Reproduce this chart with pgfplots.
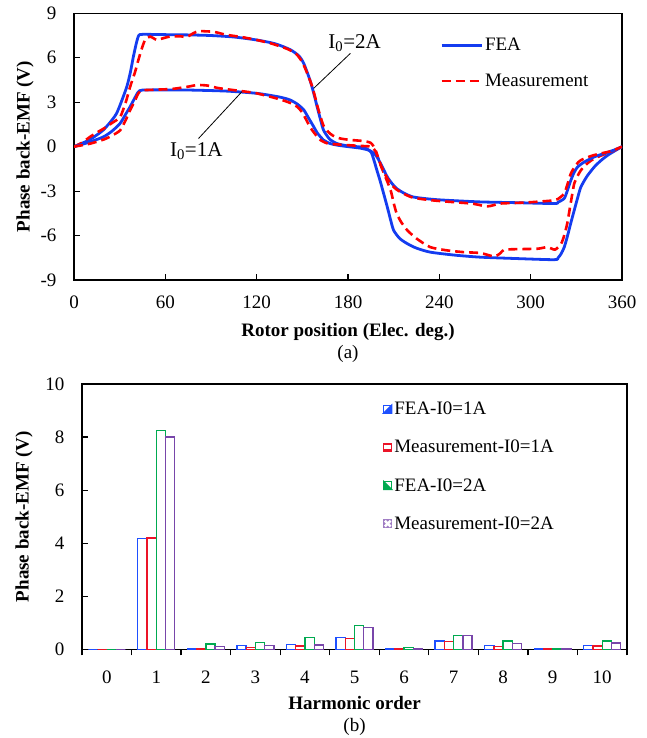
\documentclass[border=0pt]{standalone}
\usepackage{fontspec}
\setmainfont{Liberation Serif}
\usepackage{pgfplots}
\pgfplotsset{compat=1.18}
\definecolor{feablue}{RGB}{20,60,240}
\definecolor{mred}{RGB}{255,0,0}
\definecolor{bblue}{RGB}{30,80,255}
\definecolor{bred}{RGB}{235,20,40}
\definecolor{bgreen}{RGB}{0,170,80}
\definecolor{bpurple}{RGB}{120,70,170}
\pgfplotsset{
  myframe/.style={
    scale only axis,
    font=\fontsize{19}{22}\selectfont,
    tick label style={font=\fontsize{19}{22}\selectfont},
    /pgf/number format/assume math mode=true,
    axis line style={line width=1.4pt},
    tick style={line width=1.2pt, black},
    tick align=inside,
    xtick pos=bottom, ytick pos=left,
    xticklabel style={yshift=-12pt},
    yticklabel style={xshift=-14pt},
  }
}
\begin{document}
\begin{tikzpicture}
\useasboundingbox (0,0) rectangle (647pt,-738pt);
% ---------------- (a) ----------------
\begin{axis}[myframe,
  at={(74pt,-280pt)}, anchor=south west,
  width=548pt, height=266.7pt,
  xmin=0, xmax=360, ymin=-9, ymax=9,
  xtick={0,60,...,360}, ytick={-9,-6,...,9},
  major tick length=6pt,
  xlabel={\textbf{Rotor position (Elec. deg.)}\\(a)},
  xlabel style={align=center, yshift=-8pt},
  ylabel={\textbf{Phase back-EMF (V)}},
  legend style={draw=none, fill=none, at={(0.668,0.915)}, anchor=north west,
    row sep=18pt, font=\fontsize{19}{22}\selectfont, inner sep=0pt},
  legend cell align=left,
  legend image code/.code={\draw[#1] (0pt,0pt) -- (40pt,0pt);},
]
\addplot[feablue, line width=2.8pt, smooth, tension=0.4] coordinates {
(0,0) (10,0.45) (19,1.1) (25,1.8) (28,2.25) (31,3.0) (34.7,4.05) (37,5.0) (39,6.07) (41,7.0) (42.5,7.5)
(45,7.58) (60,7.56) (76,7.54) (90,7.5) (105,7.4) (120,7.2) (132,6.95) (142,6.55) (148,6.1) (151,5.6)
(155,4.5) (157.5,3.6) (159.7,2.7) (162,1.8) (164,1.1) (168,0.5) (173,0.2) (180,0.05) (190,-0.05)
(195,-0.35) (197,-0.9) (199,-1.6) (201,-2.27) (203.5,-3.2) (205.8,-4.07) (208,-4.95) (210,-5.65)
(214,-6.2) (219,-6.55) (225,-6.85) (234,-7.12) (250,-7.32) (267,-7.46) (290,-7.55) (315.5,-7.63)
(318,-7.5) (320,-7.23) (322,-6.8) (324,-6.1) (326,-5.3) (328.6,-4.3) (331,-3.4) (333,-2.72) (337,-2.0)
(341.8,-1.37) (346,-0.95) (350.6,-0.58) (355,-0.3) (360,0)
};
\addlegendentry{FEA}
\addplot[mred, line width=2.6pt, dash pattern=on 9pt off 5pt, smooth, tension=0.4] coordinates {
(0,0) (5,0.25) (10.5,0.66) (15,0.95) (20,1.25) (25,1.6) (30.3,2.0) (34,3.0) (36.9,4.05) (40,5.0)
(42.3,5.85) (44.5,6.6) (46.7,7.2) (50,7.43) (54.4,7.2) (58,7.3) (63,7.43) (70,7.45) (74,7.4) (78.5,7.66)
(82,7.8) (87,7.78) (92,7.75) (100,7.55) (110,7.4) (120,7.2) (130,6.95) (140,6.6) (146,6.25) (150,5.7)
(153,5.0) (156,4.2) (158,3.5) (160,2.7) (162,2.0) (164,1.4) (167,1.0) (170,0.75) (175,0.55) (182,0.45)
(190,0.38) (195,0.25) (198,-0.2) (201,-1.14) (204,-1.9) (208,-2.94) (210,-3.8) (212,-4.52) (215,-5.1)
(219,-5.65) (225,-6.2) (234,-6.78) (245,-7.0) (256,-7.12) (267,-7.18) (276,-7.41) (280,-7.2)
(282.5,-6.96) (290,-6.92) (304.5,-6.89) (311,-6.78) (316,-6.95) (320,-6.55) (322,-6.0) (324,-5.2)
(326,-4.0) (328.6,-2.49) (331,-1.95) (333,-1.59) (337,-1.15) (341.8,-0.8) (350,-0.45) (355,-0.25) (360,0)
};
\addlegendentry{Measurement}
\addplot[feablue, line width=2.8pt, smooth, tension=0.4, forget plot] coordinates {
(0,0) (10,0.3) (19.3,0.66) (25,1.05) (30.3,1.57) (34,2.2) (36.9,2.7) (40,3.3) (42.3,3.7) (45,3.82)
(60,3.83) (76,3.82) (100,3.75) (120,3.6) (135,3.35) (142,3.15) (147,2.85) (151,2.47) (154,1.95)
(157.5,1.34) (160,0.9) (164,0.44) (168,0.22) (173,0.1) (180,0.0) (188,-0.1) (194,-0.25) (197,-0.45)
(199,-0.69) (202,-1.25) (205.8,-2.04) (209,-2.5) (212,-2.83) (217,-3.15) (223,-3.4) (235,-3.55)
(245,-3.62) (267,-3.73) (290,-3.78) (315.5,-3.84) (318,-3.75) (322,-3.5) (324,-3.0) (326.4,-2.27)
(328.5,-1.75) (330.8,-1.37) (335,-1.05) (341.8,-0.69) (350,-0.4) (355,-0.22) (360,0)
};
\addplot[mred, line width=2.6pt, dash pattern=on 9pt off 5pt, smooth, tension=0.4, forget plot] coordinates {
(0,0) (10.5,0.2) (20,0.5) (25,0.75) (30.3,1.1) (34,1.8) (36.9,2.47) (40,3.1) (42.3,3.6) (45,3.8)
(55,3.85) (65,3.9) (75,4.05) (81,4.16) (88,4.12) (95,3.95) (110,3.75) (120,3.6) (135,3.2) (142,2.95)
(146.5,2.7) (150,2.3) (155,1.34) (158,0.9) (162,0.44) (167,0.2) (173,0.15) (180,0.1) (188,0.05)
(195,0.0) (198,-0.3) (201,-1.1) (204,-1.8) (208,-2.5) (212,-2.9) (217,-3.2) (223,-3.45) (235,-3.62)
(250,-3.75) (262,-3.85) (271.6,-4.03) (280,-3.84) (290,-3.8) (300,-3.75) (315.5,-3.62) (319,-3.45)
(322,-3.17) (324,-2.6) (326.4,-1.81) (330,-1.2) (333,-0.91) (340,-0.62) (346,-0.46) (353,-0.3) (360,0)
};
\draw[line width=0.8pt] (axis cs:157.5,3.94) -- (axis cs:181.6,6.3);
\node[anchor=west, font=\fontsize{21}{24}\selectfont, inner sep=0pt] at (axis cs:167,7.0) {I\textsubscript{0}=2A};
\draw[line width=0.8pt] (axis cs:81.8,0.55) -- (axis cs:110.3,3.71);
\node[anchor=west, font=\fontsize{21}{24}\selectfont, inner sep=0pt] at (axis cs:63,-0.3) {I\textsubscript{0}=1A};
\end{axis}
% ---------------- (b) ----------------
\begin{axis}[myframe,
  at={(82pt,-649.3pt)}, anchor=south west,
  width=545pt, height=265.3pt,
  xmin=-0.5, xmax=10.5, ymin=0, ymax=10,
  xtick={0,...,10}, ytick={0,2,...,10},
  major x tick style={draw=none},
  major tick length=6pt,
  minor xtick={-0.5,0.5,...,10.5}, minor tick length=6pt,
  minor x tick style={line width=1.2pt, black},
  ybar, bar width=0.186,
  xlabel={\textbf{Harmonic order}\\(b)},
  xlabel style={align=center, yshift=-6pt},
  ylabel={\textbf{Phase back-EMF (V)}},
  ylabel style={yshift=6pt},
  legend style={draw=none, fill=none, at={(0.552,0.94)}, anchor=north west,
    row sep=20pt, font=\fontsize{19}{22}\selectfont, inner sep=0pt},
  legend cell align=left,
]
\addplot[draw=bblue, fill=white, line width=1.3pt, bar shift=-0.28,
  legend image code/.code={\draw[bblue, line width=1pt, fill=white] (0pt,-4pt) rectangle (8pt,4pt);
   \fill[bblue] (8pt,4pt) -- (8pt,-4pt) -- (0pt,-4pt) -- cycle;}] coordinates {
(0,0) (1,4.18) (2,0.04) (3,0.15) (4,0.17) (5,0.45) (6,0.03) (7,0.31) (8,0.14) (9,0.03) (10,0.15)};
\addlegendentry{FEA-I0=1A}
\addplot[draw=bred, fill=white, line width=1.3pt, bar shift=-0.093,
  legend image code/.code={\fill[bred] (0pt,-4pt) rectangle (8pt,4pt);
   \fill[white] (1.3pt,-1.5pt) rectangle (6.7pt,1.5pt);}] coordinates {
(0,0) (1,4.2) (2,0.02) (3,0.08) (4,0.12) (5,0.4) (6,0.01) (7,0.29) (8,0.11) (9,0.01) (10,0.12)};
\addlegendentry{Measurement-I0=1A}
\addplot[draw=bgreen, fill=white, line width=1.3pt, bar shift=0.093,
  legend image code/.code={\draw[bgreen, line width=1pt, fill=white] (0pt,-4pt) rectangle (8pt,4pt);
   \fill[bgreen] (0pt,4pt) -- (8pt,-4pt) -- (0pt,-4pt) -- cycle;}] coordinates {
(0,0) (1,8.26) (2,0.2) (3,0.26) (4,0.45) (5,0.89) (6,0.07) (7,0.53) (8,0.31) (9,0.04) (10,0.31)};
\addlegendentry{FEA-I0=2A}
\addplot[draw=bpurple, fill=white, line width=1.3pt, bar shift=0.28,
  legend image code/.code={\fill[bpurple!70] (0pt,-4pt) rectangle (8pt,4pt);
   \fill[white] (2pt,-2pt) circle (0.8pt) (6pt,-2pt) circle (0.8pt) (2pt,2pt) circle (0.8pt) (6pt,2pt) circle (0.8pt) (4pt,0pt) circle (0.8pt);}] coordinates {
(0,0) (1,8.0) (2,0.11) (3,0.14) (4,0.16) (5,0.82) (6,0.01) (7,0.52) (8,0.23) (9,0.02) (10,0.24)};
\addlegendentry{Measurement-I0=2A}
\end{axis}
\end{tikzpicture}
\end{document}
